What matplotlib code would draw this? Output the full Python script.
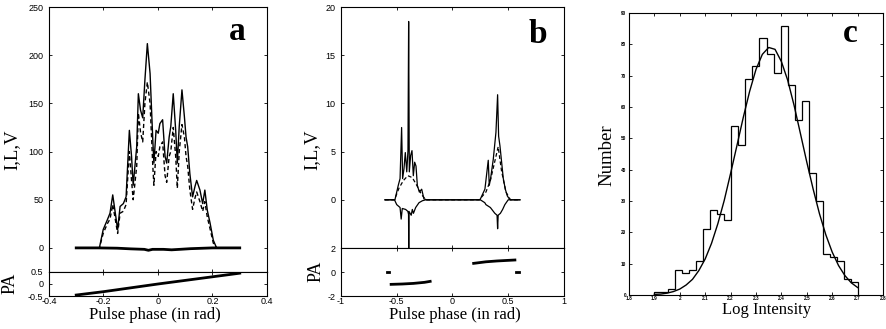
import numpy as np
import matplotlib.pyplot as plt

plt.rcParams['axes.unicode_minus'] = False
plt.rcParams['font.family'] = ['Liberation Sans', 'DejaVu Sans']

# ---- panel a: average profile (I solid, L dashed, V thick) ----
phase_a = [-0.30, -0.215, -0.201, -0.186, -0.176, -0.166, -0.158, -0.148, -0.139, -0.127,
           -0.117, -0.105, -0.097, -0.091, -0.078, -0.072, -0.064, -0.056, -0.048, -0.039,
           -0.029, -0.019, -0.015, -0.007, 0.001, 0.007, 0.017, 0.026, 0.032, 0.041,
           0.047, 0.056, 0.065, 0.071, 0.078, 0.088, 0.097, 0.103, 0.109, 0.117,
           0.127, 0.136, 0.142, 0.154, 0.164, 0.172, 0.181, 0.191, 0.203, 0.215, 0.30]
I_a = [0, 0, 19, 29, 36, 55, 39, 19, 43, 46,
       53, 122, 95, 65, 105, 160, 143, 135, 174, 212,
       181, 112, 88, 122, 119, 129, 133, 95, 88, 115,
       126, 160, 122, 88, 126, 164, 136, 115, 105, 77,
       53, 64, 70, 60, 46, 60, 39, 26, 8, 0, 0]
L_a = [0, 0, 15, 25, 30, 45, 32, 15, 36, 38,
       45, 100, 70, 50, 85, 140, 120, 110, 150, 172,
       150, 85, 65, 100, 95, 105, 110, 75, 68, 95,
       100, 125, 95, 62, 100, 128, 115, 95, 85, 60,
       40, 52, 58, 48, 38, 48, 32, 20, 5, 0, 0]
phase_va = [-0.30, -0.22, -0.15, -0.10, -0.05, -0.035, -0.02, 0.02, 0.05, 0.08, 0.12, 0.20, 0.30]
V_a = [0, 0, -0.3, -1.0, -1.5, -2.5, -1.5, -1.5, -2.0, -1.5, -0.8, 0, 0]
pa_phase_a = [-0.30, -0.20, -0.10, 0.0, 0.10, 0.20, 0.30]
pa_a = [-0.46, -0.32, -0.16, 0.0, 0.15, 0.30, 0.45]

# ---- panel b ----
phase_b = [-0.605, -0.516, -0.50, -0.486, -0.47, -0.456, -0.447, -0.435, -0.423, -0.41,
           -0.399, -0.393, -0.387, -0.375, -0.363, -0.351, -0.339, -0.327, -0.315, -0.297,
           -0.276, -0.256, -0.231, 0.247, 0.271, 0.291, 0.321, 0.33, 0.342, 0.354,
           0.366, 0.378, 0.39, 0.405, 0.414, 0.426, 0.441, 0.456, 0.474, 0.492,
           0.51, 0.52, 0.605]
I_b = [0, 0, 0.8, 1.5, 2.2, 7.5, 2.2, 3.2, 4.9, 2.9,
       5.1, 18.5, 2.9, 4.6, 5.1, 2.5, 3.9, 3.5, 1.5, 0.8,
       1.1, 0.1, 0, 0, 0.6, 1.1, 4.1, 1.5, 2.2, 3.2,
       4.2, 5.6, 7.0, 10.9, 6.6, 5.6, 3.9, 2.2, 1.1, 0.4,
       0.1, 0, 0]
phase_lb = [-0.605, -0.52, -0.48, -0.44, -0.40, -0.36, -0.32, -0.28, -0.24,
            0.24, 0.30, 0.34, 0.38, 0.41, 0.44, 0.48, 0.52, 0.605]
L_b = [0, 0, 1.2, 2.0, 2.5, 2.3, 1.5, 0.6, 0, 0, 0.8, 2.0, 4.0, 5.5, 3.0, 0.8, 0, 0]
phase_vb = [-0.605, -0.52, -0.50, -0.47, -0.46, -0.45, -0.42, -0.40, -0.394, -0.392,
            -0.39, -0.37, -0.36, -0.35, -0.33, -0.30, -0.27, -0.24, 0.25, 0.29,
            0.30, 0.34, 0.38, 0.40, 0.405, 0.41, 0.43, 0.45, 0.47, 0.50, 0.605]
V_b = [0, 0, -0.5, -0.8, -2.0, -0.9, -1.0, -1.2, -1.5, -5,
       -1.2, -1.6, -1.0, -1.4, -0.8, -0.3, -0.1, 0, 0, -0.3,
       -0.5, -0.8, -1.4, -1.6, -3.0, -1.6, -1.4, -1.0, -0.5, 0, 0]
pa_b_segments = [
    ([-0.585, -0.565], [0, 0]),
    ([-0.55, -0.45, -0.35, -0.25, -0.20], [-1.03, -1.0, -0.95, -0.86, -0.78]),
    ([0.19, 0.30, 0.40, 0.50, 0.56], [0.72, 0.85, 0.92, 0.97, 1.0]),
    ([0.57, 0.60], [0, 0]),
]

# ---- panel c: histogram of log intensity with gaussian fit ----
hist_edges = np.linspace(1.9, 2.7, 30)
hist_counts = [1, 1, 2, 8, 7, 8, 11, 21, 27, 26, 24, 54, 48, 69, 73,
               82, 77, 71, 86, 67, 56, 62, 39, 30, 13, 12, 11, 5, 4]
fit_x = [1.900, 1.925, 1.950, 1.975, 2.000, 2.025, 2.050, 2.075, 2.100, 2.125, 2.150,
         2.175, 2.200, 2.225, 2.250, 2.275, 2.300, 2.325, 2.350, 2.375, 2.400, 2.425,
         2.450, 2.475, 2.500, 2.525, 2.550, 2.575, 2.600, 2.625, 2.650, 2.675, 2.700]
fit_y = [0.2, 0.3, 0.6, 1.1, 1.9, 3.2, 5.0, 7.8, 11.5, 16.5, 22.8,
         30.2, 38.8, 47.7, 56.7, 65.0, 72.0, 76.8, 79.0, 78.4, 74.5, 68.5,
         60.5, 51.5, 42.4, 33.8, 25.9, 19.2, 13.7, 9.4, 6.2, 3.9, 2.4]

serif = ['Liberation Serif', 'DejaVu Serif']


def boxed(ax, size=6.5, pad=4, length=2.5):
    ax.tick_params(direction='in', top=True, right=True, length=length, width=0.6,
                   labelsize=size, pad=pad)
    for s in ax.spines.values():
        s.set_linewidth(0.8)


fig = plt.figure(figsize=(8.87, 3.29), dpi=100)

# panel a
axa = fig.add_axes([0.0552, 0.1733, 0.2458, 0.8054])
axa.plot(phase_a, I_a, color='k', lw=1.0)
axa.plot(phase_a, L_a, color='k', lw=1.0, ls=(0, (3, 2)))
axa.plot(phase_va, V_a, color='k', lw=2.0)
axa.set_xlim(-0.4, 0.4)
axa.set_ylim(-25, 250)
axa.set_yticks([0, 50, 100, 150, 200, 250])
axa.set_xticks([-0.4, -0.2, 0, 0.2, 0.4])
axa.set_xticklabels([])
boxed(axa)
axa.set_ylabel('I,L,V', family=serif, fontsize=13.5)
axa.yaxis.set_label_coords(-0.133, 0.46)
axa.text(0.862, 0.875, 'a', transform=axa.transAxes, ha='center', va='baseline',
         family=serif, fontsize=24, fontweight='bold')

axpa = fig.add_axes([0.0552, 0.1003, 0.2458, 0.073])
axpa.plot(pa_phase_a, pa_a, color='k', lw=2)
axpa.set_xlim(-0.4, 0.4)
axpa.set_ylim(-0.5, 0.5)
axpa.set_yticks([-0.5, 0, 0.5])
axpa.set_xticks([-0.4, -0.2, 0, 0.2, 0.4])
axpa.set_xticklabels(['-0.4', '-0.2', '0', '0.2', '0.4'])
axpa.set_yticklabels(['-0.5', '0', '0.5'])
boxed(axpa)
axpa.tick_params(axis='x', pad=0.5)
axpa.set_ylabel('PA', family=serif, fontsize=13)
axpa.yaxis.set_label_coords(-0.141, 0.54)
axpa.set_xlabel('Pulse phase (in rad)', family=serif, fontsize=12)
axpa.xaxis.set_label_coords(0.486, -0.46)

# panel b
axb = fig.add_axes([0.3844, 0.2462, 0.2514, 0.7325])
axb.plot(phase_b, I_b, color='k', lw=0.9)
axb.plot(phase_lb, L_b, color='k', lw=0.9, ls=(0, (3, 2)))
axb.plot(phase_vb, V_b, color='k', lw=0.9)
axb.set_xlim(-1, 1)
axb.set_ylim(-5, 20)
axb.set_yticks([0, 5, 10, 15, 20])
axb.set_xticks([-1, -0.5, 0, 0.5, 1])
axb.set_xticklabels([])
boxed(axb)
axb.set_ylabel('I,L,V', family=serif, fontsize=13.5)
axb.yaxis.set_label_coords(-0.094, 0.407)
axb.text(0.883, 0.852, 'b', transform=axb.transAxes, ha='center', va='baseline',
         family=serif, fontsize=24, fontweight='bold')

axpb = fig.add_axes([0.3844, 0.1003, 0.2514, 0.1459])
for px, py in pa_b_segments:
    axpb.plot(px, py, color='k', lw=2)
axpb.set_xlim(-1, 1)
axpb.set_ylim(-2, 2)
axpb.set_yticks([-2, 0, 2])
axpb.set_xticks([-1, -0.5, 0, 0.5, 1])
axpb.set_xticklabels(['-1', '-0.5', '0', '0.5', '1'])
boxed(axpb)
axpb.tick_params(axis='x', pad=0.5)
axpb.set_ylabel('PA', family=serif, fontsize=13)
axpb.yaxis.set_label_coords(-0.072, 0.51)
axpb.set_xlabel('Pulse phase (in rad)', family=serif, fontsize=12)
axpb.xaxis.set_label_coords(0.511, -0.23)

# panel c
axc = fig.add_axes([0.7091, 0.1033, 0.2864, 0.8572])
axc.stairs(hist_counts, hist_edges, color='k', lw=0.9)
axc.plot(fit_x, fit_y, color='k', lw=1.0)
axc.set_xlim(1.8, 2.8)
axc.set_ylim(0, 90)
axc.set_xticks([1.8, 1.9, 2.0, 2.1, 2.2, 2.3, 2.4, 2.5, 2.6, 2.7, 2.8])
axc.set_xticklabels(['1.8', '1.9', '2', '2.1', '2.2', '2.3', '2.4', '2.5', '2.6', '2.7', '2.8'])
axc.set_yticks(range(0, 91, 10))
boxed(axc, size=3.4, pad=2, length=2)
for lab in axc.get_xticklabels() + axc.get_yticklabels():
    lab.set_fontweight('bold')
axc.tick_params(axis='x', pad=1)
axc.set_ylabel('Number', family=serif, fontsize=13.5)
axc.yaxis.set_label_coords(-0.055, 0.495)
axc.set_xlabel('Log Intensity', family=serif, fontsize=12)
axc.xaxis.set_label_coords(0.54, -0.025)
axc.text(0.87, 0.897, 'c', transform=axc.transAxes, ha='center', va='baseline',
         family=serif, fontsize=24, fontweight='bold')

fig.savefig('out.png', dpi=100)
